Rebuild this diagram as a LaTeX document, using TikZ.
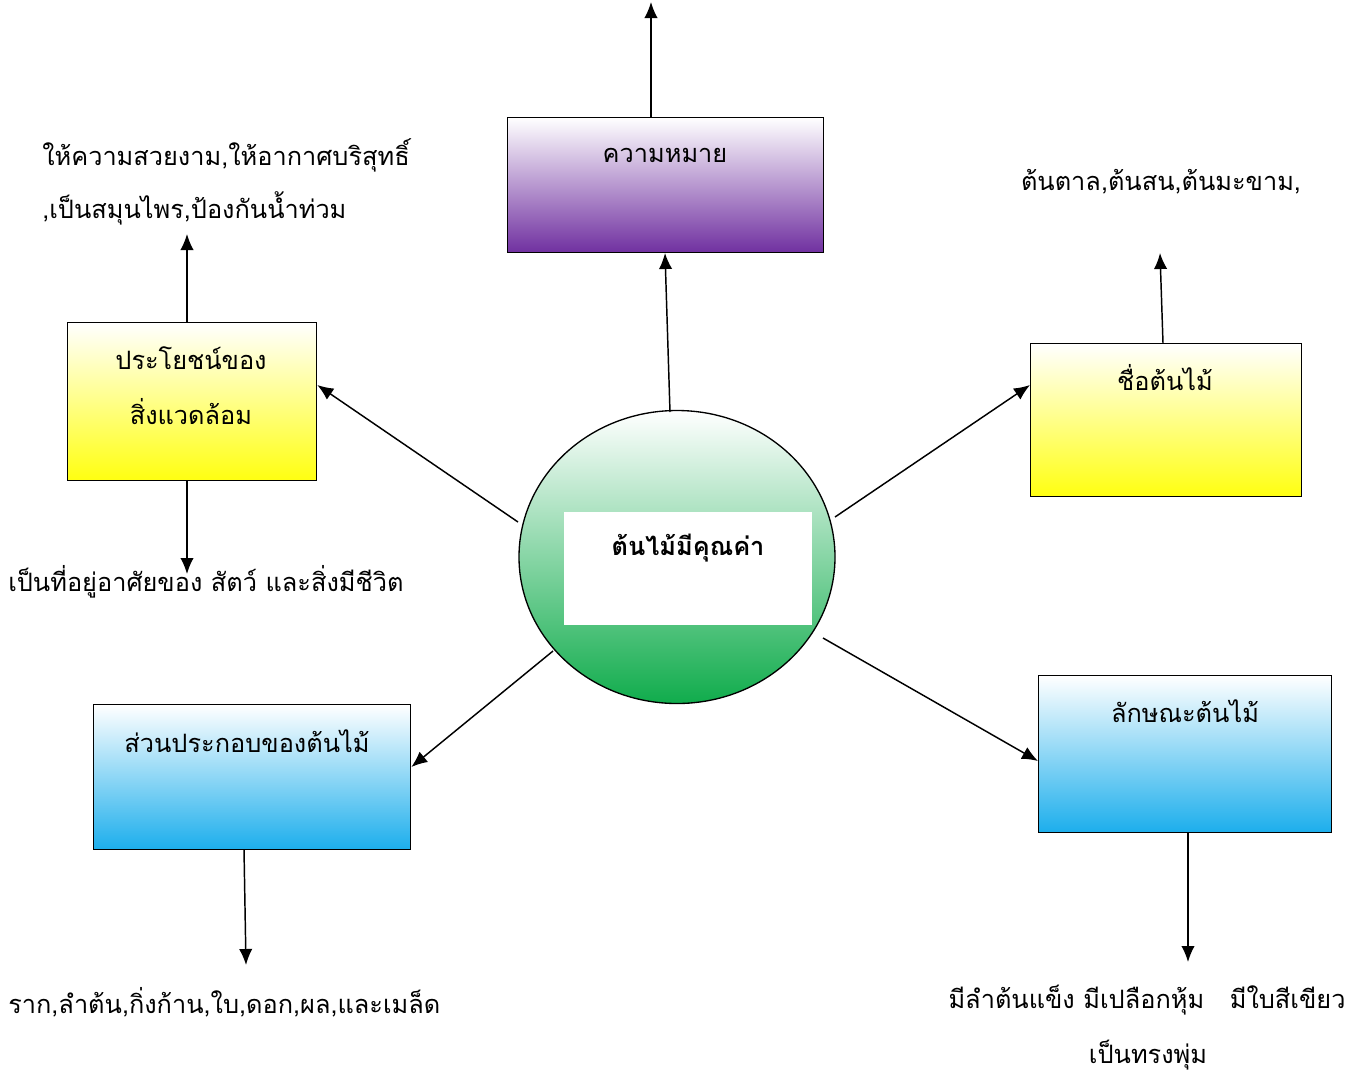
\documentclass[tikz,border=0pt]{standalone}
\usepackage{fontspec}
\newfontfamily\thai[Script=Thai]{Loma}
\usetikzlibrary{arrows.meta,shapes.geometric}
\definecolor{cpurple}{HTML}{7030A0}
\definecolor{cyellow}{HTML}{FFFF10}
\definecolor{cblue}{HTML}{1CAEEC}
\definecolor{cgreen}{HTML}{10AC4C}
\begin{document}
\begin{tikzpicture}[x=0.75pt,y=-0.75pt,
  txt/.style={font=\thai\fontsize{19}{23}\selectfont, inner sep=0pt},
  box/.style={draw, line width=1pt, minimum width=#1, inner sep=0pt, anchor=north west},
  conn/.style={-{Latex[length=12pt,width=10pt]}, line width=1.1pt}]
\useasboundingbox (0,0) rectangle (1356,1076);
% boxes
\node[box=316*0.75pt, minimum height=135*0.75pt, top color=white, bottom color=cpurple] (mean) at (507,117) {};
\node[box=249*0.75pt, minimum height=158*0.75pt, top color=white, bottom color=cyellow] (benefit) at (67,322) {};
\node[box=271*0.75pt, minimum height=153*0.75pt, top color=white, bottom color=cyellow] (name) at (1030,343) {};
\node[box=317*0.75pt, minimum height=145*0.75pt, top color=white, bottom color=cblue] (part) at (93,704) {};
\node[box=293*0.75pt, minimum height=157*0.75pt, top color=white, bottom color=cblue] (feat) at (1038,675) {};
% centre
\node[draw, line width=1pt, ellipse, minimum width=316*0.75pt, minimum height=293*0.75pt, inner sep=0pt, top color=white, bottom color=cgreen] (c) at (677,557) {};
\node[fill=white, minimum width=248*0.75pt, minimum height=113*0.75pt, inner sep=0pt, anchor=north west] (cbox) at (564,512) {};
\node[txt, font=\thai\bfseries\fontsize{19}{23}\selectfont] (ctext) at (688,548) {ต้นไม้มีคุณค่า};
% box labels
\node[txt] (meant) at (665,155) {ความหมาย};
\node[txt] (bent1) at (191,358) {ประโยชน์ของ};
\node[txt] (bent2) at (191,412) {สิ่งแวดล้อม};
\node[txt] (namet) at (1165,378) {ชื่อต้นไม้};
\node[txt] (partt) at (247,741) {ส่วนประกอบของต้นไม้};
\node[txt] (featt) at (1185,711) {ลักษณะต้นไม้};
% outer texts
\node[txt, anchor=west] (b1) at (42,155) {ให้ความสวยงาม,ให้อากาศบริสุทธิ์};
\node[txt, anchor=west] (b2) at (42,208) {,เป็นสมุนไพร,ป้องกันน้ำท่วม};
\node[txt, anchor=west] (b3) at (8,582) {เป็นที่อยู่อาศัยของ สัตว์ และสิ่งมีชีวิต};
\node[txt] (n1) at (1161,182) {ต้นตาล,ต้นสน,ต้นมะขาม,};
\node[txt, anchor=west] (p1) at (8,1002) {ราก,ลำต้น,กิ่งก้าน,ใบ,ดอก,ผล,และเมล็ด};
\node[txt] (f1) at (1147,1000) {มีลำต้นแข็ง มีเปลือกหุ้ม \ \ มีใบสีเขียว};
\node[txt] (f2) at (1148,1055) {เป็นทรงพุ่ม};
% free ends
\coordinate (meanup) at (651,2);
\coordinate (benup) at (187,234);
\coordinate (bendown) at (187,574);
\coordinate (nameup) at (1160,253);
\coordinate (partdown) at (246,965);
\coordinate (featdown) at (1188,962);
\coordinate (ctop) at (670,412);
% connectors
\draw[conn] (mean.north west -| meanup) -- (meanup);
\draw[conn] (benefit.north west -| benup) -- (benup);
\draw[conn] (benefit.south west -| bendown) -- (bendown);
\draw[conn] (1163,343) -- (nameup);
\draw[conn] (244,849) -- (partdown);
\draw[conn] (feat.south west -| featdown) -- (featdown);
\draw[conn] (ctop) -- (665,253);
\draw[conn] (518,522) -- (benefit.east |- 0,385);
\draw[conn] (835,517) -- (name.west |- 0,385);
\draw[conn] (553,651) -- (part.east |- 0,767);
\draw[conn] (823,638) -- (feat.west |- 0,761);
\end{tikzpicture}
\end{document}
